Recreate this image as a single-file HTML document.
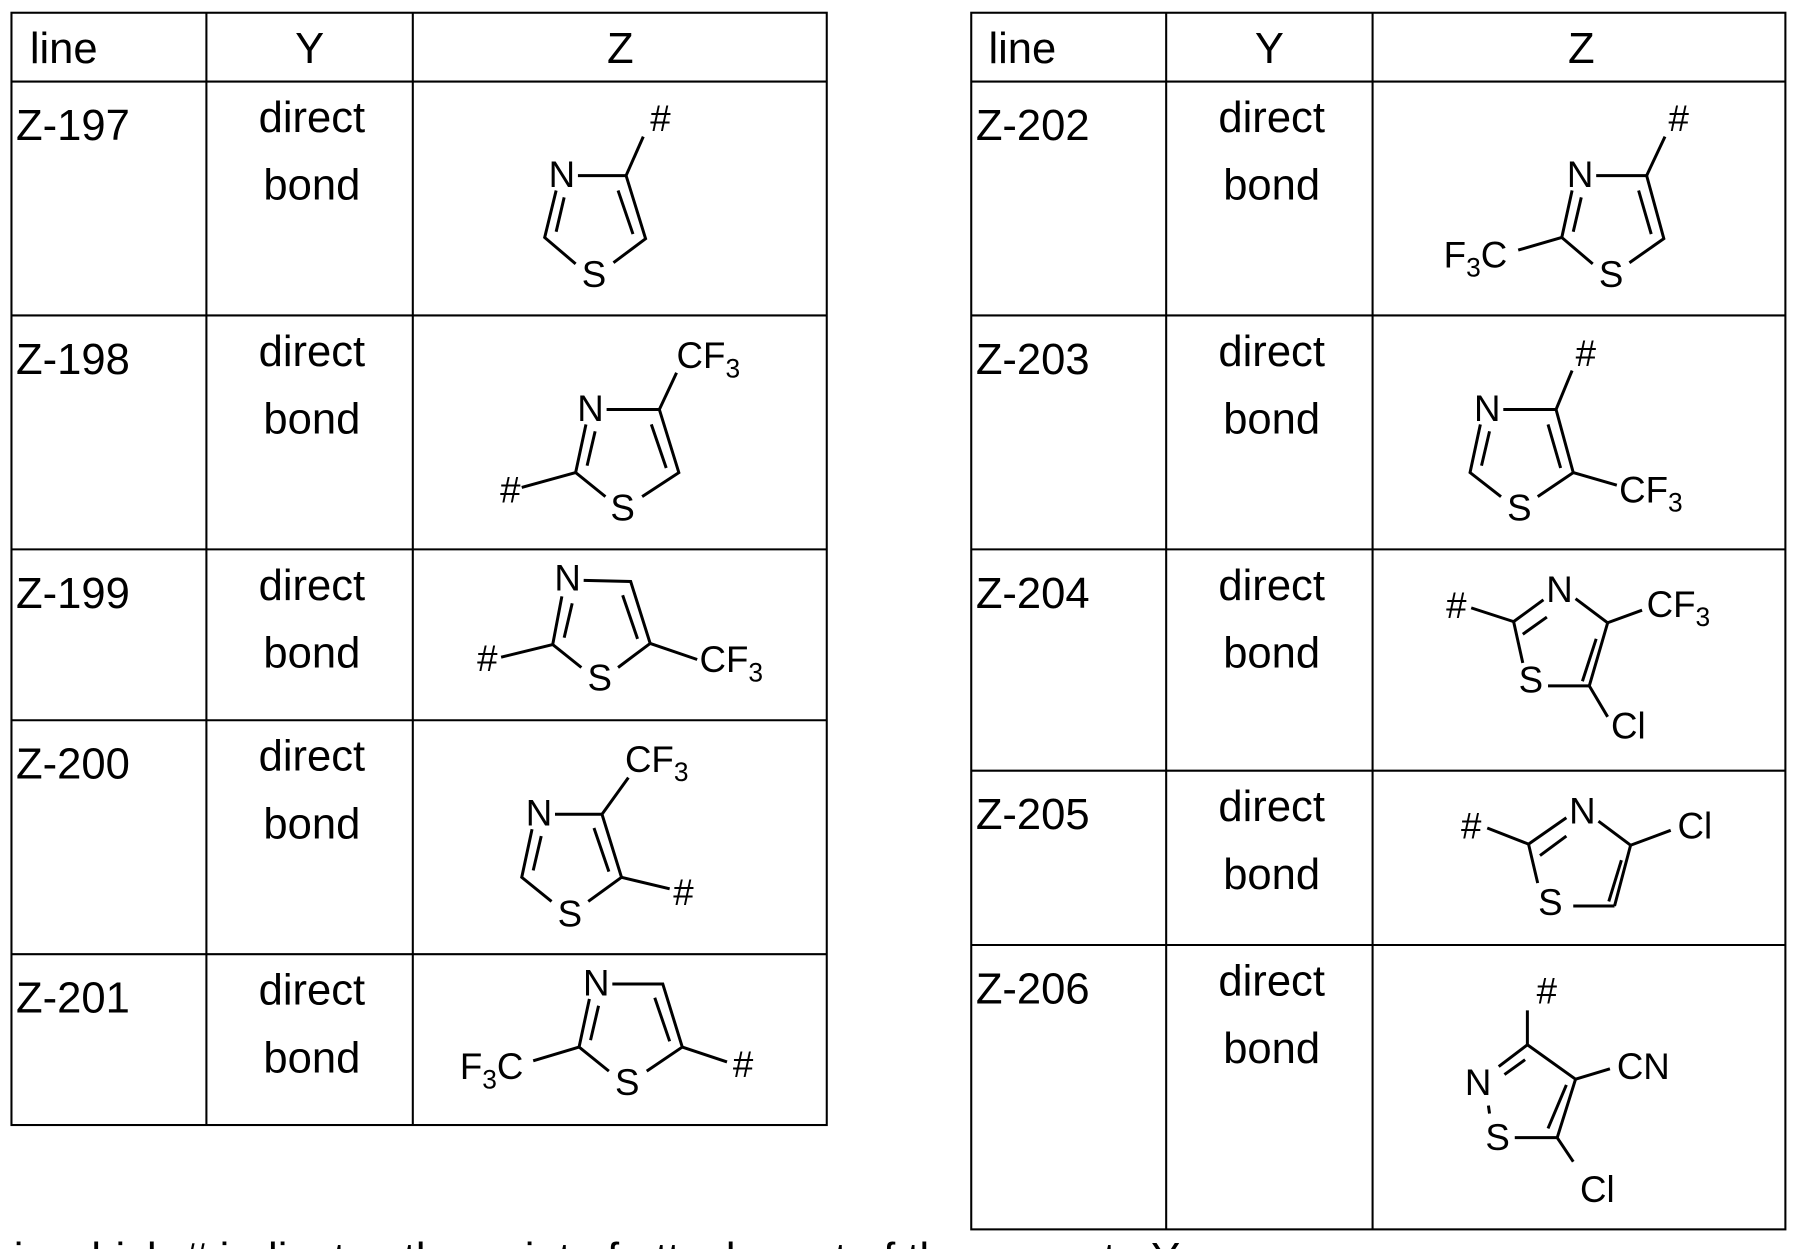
<!DOCTYPE html>
<html><head><meta charset="utf-8"><style>
html,body{margin:0;padding:0;background:#fff;overflow:hidden}
svg{display:block}
text{font-family:"Liberation Sans",Arial,sans-serif;fill:#000}
.t{font-size:38px}
.a{font-size:32px}
.s{font-size:23px}
line,polyline{stroke:#000;stroke-width:2.6;fill:none;stroke-linecap:butt}
.g{stroke-width:1.8}
</style></head><body>
<svg width="1798" height="1249" viewBox="0 0 1568 1089" xmlns="http://www.w3.org/2000/svg">
<g class="g">
<rect x="10" y="11" width="711" height="970" fill="none" stroke="#000" stroke-width="1.8"/>
<line class="g" x1="180" y1="11" x2="180" y2="981"/><line class="g" x1="360" y1="11" x2="360" y2="981"/>
<line class="g" x1="10" y1="71" x2="721" y2="71"/><line class="g" x1="10" y1="275" x2="721" y2="275"/>
<line class="g" x1="10" y1="479" x2="721" y2="479"/><line class="g" x1="10" y1="628" x2="721" y2="628"/>
<line class="g" x1="10" y1="832" x2="721" y2="832"/>
<rect x="847" y="11" width="710" height="1061" fill="none" stroke="#000" stroke-width="1.8"/>
<line class="g" x1="1017" y1="11" x2="1017" y2="1072"/><line class="g" x1="1197" y1="11" x2="1197" y2="1072"/>
<line class="g" x1="847" y1="71" x2="1557" y2="71"/><line class="g" x1="847" y1="275" x2="1557" y2="275"/>
<line class="g" x1="847" y1="479" x2="1557" y2="479"/><line class="g" x1="847" y1="672" x2="1557" y2="672"/>
<line class="g" x1="847" y1="824" x2="1557" y2="824"/>
</g>
<g class="t">
<text x="26" y="55">line</text><text x="270" y="55" text-anchor="middle">Y</text><text x="541" y="55" text-anchor="middle">Z</text>
<text x="862" y="55">line</text><text x="1107" y="55" text-anchor="middle">Y</text><text x="1379" y="55" text-anchor="middle">Z</text>
<text x="14" y="122">Z-197</text><text x="14" y="326">Z-198</text><text x="14" y="530">Z-199</text><text x="14" y="679">Z-200</text><text x="14" y="883">Z-201</text>
<text x="851" y="122">Z-202</text><text x="851" y="326">Z-203</text><text x="851" y="530">Z-204</text><text x="851" y="723">Z-205</text><text x="851" y="875">Z-206</text>
</g>
<g class="t" text-anchor="middle">
<text x="272" y="115">direct</text><text x="272" y="174">bond</text>
<text x="272" y="319">direct</text><text x="272" y="378">bond</text>
<text x="272" y="523">direct</text><text x="272" y="582">bond</text>
<text x="272" y="672">direct</text><text x="272" y="731">bond</text>
<text x="272" y="876">direct</text><text x="272" y="935">bond</text>
<text x="1109" y="115">direct</text><text x="1109" y="174">bond</text>
<text x="1109" y="319">direct</text><text x="1109" y="378">bond</text>
<text x="1109" y="523">direct</text><text x="1109" y="582">bond</text>
<text x="1109" y="716">direct</text><text x="1109" y="775">bond</text>
<text x="1109" y="868">direct</text><text x="1109" y="927">bond</text>
</g>
<text class="t" x="12" y="1110">in which # indicates the point of attachment of the group to Y</text>

<!-- Z-197 -->
<g>
<text class="a" x="490" y="163" text-anchor="middle">N</text><text class="a" x="518" y="250" text-anchor="middle">S</text><text class="a" x="576" y="114" text-anchor="middle">#</text>
<polyline points="504,153 546,153 563,208 535,229"/><polyline points="502,230 475,207 485,166"/>
<line x1="539" y1="166" x2="552" y2="204"/><line x1="485" y1="202" x2="492" y2="172"/>
<line x1="546" y1="153" x2="561" y2="119"/>
</g>
<!-- Z-198 -->
<g>
<text class="a" x="515" y="367" text-anchor="middle">N</text><text class="a" x="543" y="454" text-anchor="middle">S</text><text class="a" x="445" y="438" text-anchor="middle">#</text>
<text class="a" x="590" y="321">CF<tspan class="s" dy="8">3</tspan></text>
<polyline points="529,357 575,357 592,412 560,433"/><polyline points="528,433 502,412 511,370"/>
<line x1="568" y1="370" x2="581" y2="408"/><line x1="512" y1="406" x2="519" y2="376"/>
<line x1="575" y1="357" x2="590" y2="325"/><line x1="455" y1="425" x2="502" y2="412"/>
</g>
<!-- Z-199 -->
<g>
<text class="a" x="495" y="515" text-anchor="middle">N</text><text class="a" x="523" y="602" text-anchor="middle">S</text><text class="a" x="425" y="585" text-anchor="middle">#</text>
<text class="a" x="610" y="586">CF<tspan class="s" dy="8">3</tspan></text>
<polyline points="509,506 550,507 567,561 539,582"/><polyline points="507,582 482,562 490,520"/>
<line x1="543" y1="519" x2="556" y2="557"/><line x1="492" y1="556" x2="499" y2="526"/>
<line x1="437" y1="573" x2="482" y2="562"/><line x1="567" y1="561" x2="608" y2="575"/>
</g>
<!-- Z-200 -->
<g>
<text class="a" x="470" y="720" text-anchor="middle">N</text><text class="a" x="497" y="808" text-anchor="middle">S</text><text class="a" x="596" y="789" text-anchor="middle">#</text>
<text class="a" x="545" y="673">CF<tspan class="s" dy="8">3</tspan></text>
<polyline points="484,710 525,710 542,765 513,786"/><polyline points="481,786 455,765 464,723"/>
<line x1="518" y1="722" x2="531" y2="760"/><line x1="465" y1="759" x2="472" y2="729"/>
<line x1="525" y1="710" x2="548" y2="678"/><line x1="542" y1="765" x2="584" y2="775"/>
</g>
<!-- Z-201 -->
<g>
<text class="a" x="520" y="868" text-anchor="middle">N</text><text class="a" x="547" y="955" text-anchor="middle">S</text><text class="a" x="648" y="939" text-anchor="middle">#</text>
<text class="a" x="401" y="941">F<tspan class="s" dy="8">3</tspan><tspan dy="-8">C</tspan></text>
<polyline points="534,858 578,858 595,913 564,934"/><polyline points="531,934 505,913 514,871"/>
<line x1="571" y1="870" x2="584" y2="908"/><line x1="515" y1="907" x2="522" y2="877"/>
<line x1="465" y1="925" x2="505" y2="913"/><line x1="595" y1="913" x2="634" y2="926"/>
</g>
<!-- Z-202 -->
<g>
<text class="a" x="1378" y="163" text-anchor="middle">N</text><text class="a" x="1405" y="250" text-anchor="middle">S</text><text class="a" x="1464" y="114" text-anchor="middle">#</text>
<text class="a" x="1259" y="233">F<tspan class="s" dy="8">3</tspan><tspan dy="-8">C</tspan></text>
<polyline points="1392,153 1436,153 1451,208 1421,229"/><polyline points="1389,230 1362,207 1371,166"/>
<line x1="1429" y1="166" x2="1440" y2="204"/><line x1="1372" y1="202" x2="1379" y2="172"/>
<line x1="1436" y1="153" x2="1452" y2="119"/><line x1="1324" y1="218" x2="1362" y2="207"/>
</g>
<!-- Z-203 -->
<g>
<text class="a" x="1297" y="367" text-anchor="middle">N</text><text class="a" x="1325" y="454" text-anchor="middle">S</text><text class="a" x="1383" y="319" text-anchor="middle">#</text>
<text class="a" x="1412" y="438">CF<tspan class="s" dy="8">3</tspan></text>
<polyline points="1311,357 1357,357 1372,412 1341,433"/><polyline points="1309,433 1282,412 1291,370"/>
<line x1="1350" y1="370" x2="1361" y2="408"/><line x1="1292" y1="406" x2="1299" y2="376"/>
<line x1="1357" y1="357" x2="1371" y2="323"/><line x1="1372" y1="412" x2="1410" y2="423"/>
</g>
<!-- Z-204 -->
<g>
<text class="a" x="1360" y="525" text-anchor="middle">N</text><text class="a" x="1335" y="604" text-anchor="middle">S</text><text class="a" x="1270" y="539" text-anchor="middle">#</text>
<text class="a" x="1420" y="644" text-anchor="middle">Cl</text>
<text class="a" x="1436" y="538">CF<tspan class="s" dy="8">3</tspan></text>
<line x1="1283" y1="530" x2="1320" y2="542"/><line x1="1320" y1="542" x2="1346" y2="523"/><line x1="1328" y1="553" x2="1349" y2="538"/>
<line x1="1374" y1="522" x2="1402" y2="543"/><line x1="1402" y1="543" x2="1386" y2="598"/><line x1="1392" y1="557" x2="1380" y2="594"/>
<line x1="1386" y1="598" x2="1350" y2="598"/><line x1="1320" y1="542" x2="1328" y2="578"/>
<line x1="1402" y1="543" x2="1432" y2="532"/><line x1="1386" y1="598" x2="1402" y2="625"/>
</g>
<!-- Z-205 -->
<g>
<text class="a" x="1380" y="718" text-anchor="middle">N</text><text class="a" x="1352" y="798" text-anchor="middle">S</text><text class="a" x="1283" y="731" text-anchor="middle">#</text>
<text class="a" x="1478" y="731" text-anchor="middle">Cl</text>
<line x1="1297" y1="722" x2="1333" y2="736"/><line x1="1333" y1="736" x2="1366" y2="713"/><line x1="1343" y1="746" x2="1366" y2="729"/>
<line x1="1394" y1="716" x2="1422" y2="737"/><line x1="1422" y1="737" x2="1408" y2="790"/><line x1="1414" y1="750" x2="1403" y2="786"/>
<line x1="1408" y1="790" x2="1372" y2="790"/><line x1="1333" y1="736" x2="1341" y2="770"/>
<line x1="1422" y1="737" x2="1457" y2="724"/>
</g>
<!-- Z-206 -->
<g>
<text class="a" x="1349" y="875" text-anchor="middle">#</text><text class="a" x="1289" y="955" text-anchor="middle">N</text><text class="a" x="1306" y="1003" text-anchor="middle">S</text>
<text class="a" x="1393" y="1048" text-anchor="middle">Cl</text><text class="a" x="1410" y="941">CN</text>
<line x1="1332" y1="881" x2="1332" y2="911"/>
<polyline points="1332,911 1374,941 1358,992"/><line x1="1366" y1="946" x2="1350" y2="984"/>
<line x1="1358" y1="992" x2="1321" y2="992"/>
<line x1="1332" y1="911" x2="1307" y2="930"/><line x1="1330" y1="924" x2="1312" y2="937"/>
<line x1="1298" y1="964" x2="1299" y2="971"/>
<line x1="1374" y1="941" x2="1404" y2="932"/><line x1="1358" y1="992" x2="1372" y2="1013"/>
</g>
</svg>
</body></html>
